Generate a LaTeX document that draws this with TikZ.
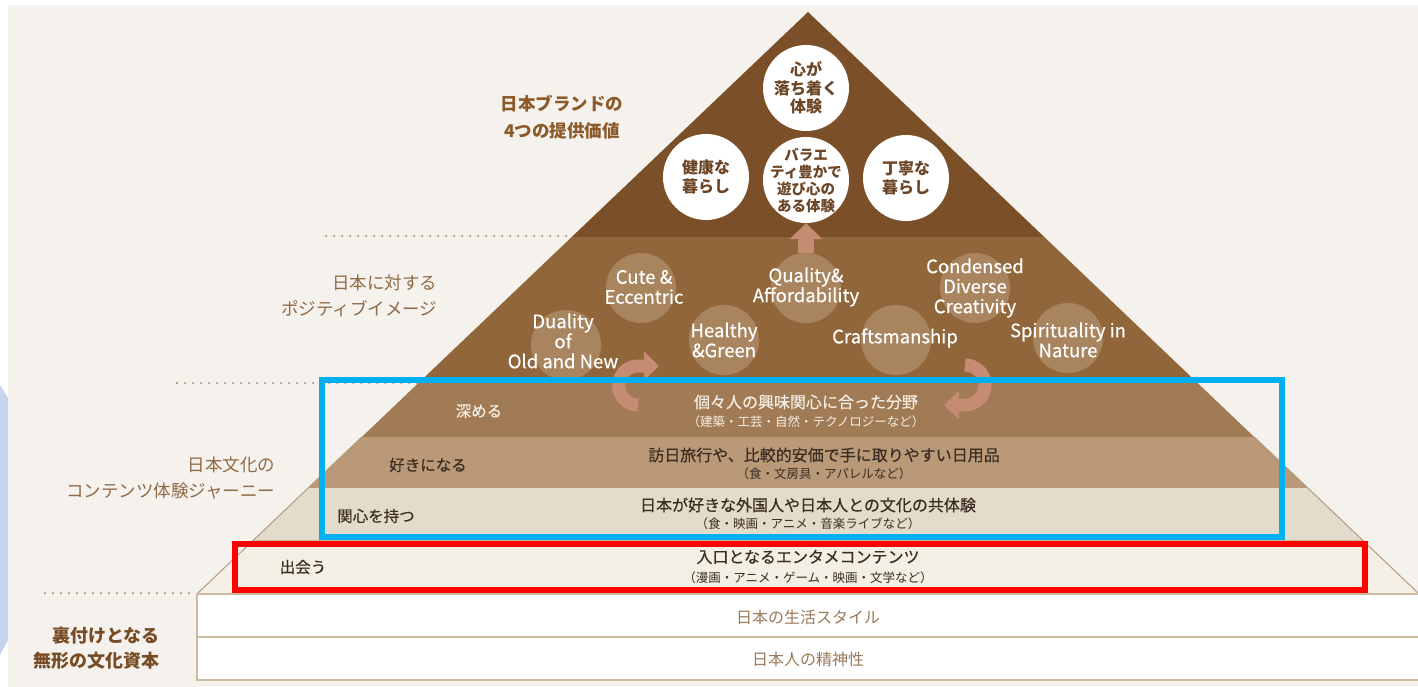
\documentclass[tikz,border=0pt]{standalone}
\usepackage{fontspec}
\setmainfont{Noto Sans CJK JP}
\newfontfamily\medjp{Noto Sans CJK JP}[FakeBold=0.35]
\usetikzlibrary{arrows.meta}
\definecolor{bgc}{HTML}{F5F2ED}
\definecolor{topbrown}{HTML}{7B4F27}
\definecolor{bandtwo}{HTML}{91663A}
\definecolor{bandthree}{HTML}{A07B55}
\definecolor{bandfour}{HTML}{B99978}
\definecolor{bandfive}{HTML}{E3DBCB}
\definecolor{bandsix}{HTML}{F3EFE4}
\definecolor{circc}{HTML}{A8845F}
\definecolor{salmon}{HTML}{C68C73}
\definecolor{labelc}{HTML}{8F6A45}
\definecolor{titlec}{HTML}{8C5A2A}
\definecolor{circtxt}{HTML}{6B4526}
\definecolor{darktxt}{HTML}{3A2C20}
\definecolor{basetxt}{HTML}{9B7A5A}
\definecolor{baseedge}{HTML}{CDBBA0}
\definecolor{edgec}{HTML}{B49A7C}
\definecolor{dotc}{HTML}{A0795A}
\definecolor{hlblue}{HTML}{00B0F0}
\definecolor{hlred}{HTML}{FF0000}
\definecolor{sideblue}{HTML}{C5D3EC}
\definecolor{lighttxt}{HTML}{F6EEE4}
\begin{document}
\begin{tikzpicture}[x=1pt,y=-1pt,
  whitecirc/.style={circle,fill=white,minimum size=86pt,inner sep=0pt},
  circtext/.style={align=center,text=circtxt,font=\fontsize{16}{18.5}\selectfont\bfseries},
  imgcirc/.style={circle,fill=circc,minimum size=70pt,inner sep=0pt},
  imgtxt/.style={align=center,text=white,font=\fontsize{18.5}{20}\selectfont\medjp},
  sidelabel/.style={align=right,anchor=east,text=labelc,font=\fontsize{17.5}{26}\selectfont},
  stagetxt/.style={font=\fontsize{15.5}{18}\selectfont\medjp},
  maintxt/.style={font=\fontsize{16}{18}\selectfont\medjp},
  subtxt/.style={font=\fontsize{12.5}{14}\selectfont},
  basetext/.style={text=basetxt,font=\fontsize{16}{18}\selectfont},
  dotline/.style={dotc,line width=2pt,line cap=round,dash pattern=on 0pt off 8pt},
  turnarrow/.style={salmon,line width=13pt,-{Triangle[width=28pt,length=15pt]}},
  hlbox/.style={line width=5.5pt}
]
\useasboundingbox (0,0) rectangle (1418,687);
% background
\fill[white] (0,0) rectangle (1418,687);
\fill[bgc] (8,5) rectangle (1418,687);
\fill[sideblue] (0,385) -- (8,398) -- (8,640) -- (0,655) -- cycle;

% dotted guide lines
\draw[dotline] (326,236) -- (570,236);
\draw[dotline] (177,383) -- (418,383);
\draw[dotline] (45,593) -- (196,593);

% pyramid bands
\fill[topbrown] (808,12) -- (1044.25,237) -- (571.75,237) -- cycle;
\fill[bandtwo] (571.75,237) -- (1044.25,237) -- (1196.5,382) -- (419.5,382) -- cycle;
\fill[bandthree] (419.5,382) -- (1196.5,382) -- (1254.25,437) -- (361.75,437) -- cycle;
\fill[bandfour] (361.75,437) -- (1254.25,437) -- (1307.8,488) -- (308.2,488) -- cycle;
\fill[bandfive] (308.2,488) -- (1307.8,488) -- (1362.4,540) -- (253.6,540) -- cycle;
\fill[bandsix] (253.6,540) -- (1362.4,540) -- (1419.1,594) -- (196.9,594) -- cycle;
\draw[baseedge,line width=1pt] (253.6,540) -- (1362.4,540);
\draw[edgec,line width=1pt] (361.75,437) -- (196.9,594);
\draw[edgec,line width=1pt] (1254.25,437) -- (1419.1,594);

% base rows
\draw[baseedge,line width=2pt,fill=white] (197,594) rectangle (1420,637);
\draw[baseedge,line width=2pt,fill=white] (197,637) rectangle (1420,680);
\node[basetext] (life) at (808,617) {日本の生活スタイル};
\node[basetext] (spirit) at (808,659) {日本人の精神性};

% positive image circles
\node[imgcirc] (dc) at (566,345) {};
\node[imgcirc] (cc) at (641,288) {};
\node[imgcirc] (hc) at (724,340) {};
\node[imgcirc] (kc) at (896,340) {};
\node[imgcirc] (nc) at (975,288) {};
\node[imgcirc] (sc) at (1068,338) {};

% value circles
\node[whitecirc] (calm) at (806,88) {};
\node[whitecirc] (health) at (706,177) {};
\node[whitecirc] (variety) at (806,180) {};
\node[whitecirc] (care) at (906,178) {};

% up arrow from positive image to values
\node[imgcirc] (qc) at (806,288) {};
\draw[salmon,line width=16pt,-{Triangle[width=32pt,length=16pt]}] (qc.north) -- (variety.south);
\node[imgcirc] (qcover) at (806,288) {};

% circle texts
\node[circtext] (calmt) at (806,88) {心が\\落ち着く\\体験};
\node[circtext] (healtht) at (706,177) {健康な\\暮らし};
\node[circtext,font=\fontsize{14.5}{17}\selectfont\bfseries] (varietyt) at (806,181) {バラエ\\ティ豊かで\\遊び心の\\ある体験};
\node[circtext] (caret) at (906,178) {丁寧な\\暮らし};

\node[imgtxt] (dt) at (563,341) {Duality\\of\\Old and New};
\node[imgtxt] (ct) at (644,287) {Cute \&\\Eccentric};
\node[imgtxt] (ht) at (724,340) {Healthy\\\&Green};
\node[imgtxt] (qt) at (806,287) {Quality\&\\Affordability};
\node[imgtxt] (kt) at (895,338) {Craftsmanship};
\node[imgtxt] (nt) at (975,288) {Condensed\\Diverse\\Creativity};
\node[imgtxt] (st) at (1068,340) {Spirituality in\\Nature};

% turning arrows
\coordinate (la1) at (638,405);
\coordinate (la2) at (659,366);
\draw[turnarrow] (la1) arc[start angle=90,end angle=270,radius=19.5] -- (la2);
\coordinate (ra1) at (965,365);
\coordinate (ra2) at (944,405);
\draw[turnarrow] (ra1) arc[start angle=-90,end angle=90,radius=20] -- (ra2);

% side labels
\node[align=center,text=titlec,font=\fontsize{17.5}{27}\selectfont\bfseries] (title) at (562,117) {日本ブランドの\\4つの提供価値};
\node[sidelabel] (pos) at (441,296) {日本に対する\\ポジティブイメージ};
\node[sidelabel] (jour) at (279,478) {日本文化の\\コンテンツ体験ジャーニー};
\node[sidelabel,text=titlec!85!black,font=\fontsize{18}{25}\selectfont\bfseries] (cap) at (163,648) {裏付けとなる\\無形の文化資本};

% stage labels
\node[stagetxt,text=lighttxt] (s1) at (479,411) {深める};
\node[stagetxt,text=darktxt] (s2) at (428,465) {好きになる};
\node[stagetxt,text=darktxt] (s3) at (376,516) {関心を持つ};
\node[stagetxt,text=darktxt] (s4) at (303,567) {出会う};

% stage contents
\node[maintxt,text=lighttxt] (m1) at (806,402) {個々人の興味関心に合った分野};
\node[subtxt,text=lighttxt] (u1) at (806,422) {（建築・工芸・自然・テクノロジーなど）};
\node[maintxt,text=darktxt] (m2) at (824,455) {訪日旅行や、比較的安価で手に取りやすい日用品};
\node[subtxt,text=darktxt] (u2) at (824,474) {（食・文房具・アパレルなど）};
\node[maintxt,text=darktxt] (m3) at (808,505) {日本が好きな外国人や日本人との文化の共体験};
\node[subtxt,text=darktxt] (u3) at (808,524) {（食・映画・アニメ・音楽ライブなど）};
\node[maintxt,text=darktxt] (m4) at (808,557) {入口となるエンタメコンテンツ};
\node[subtxt,text=darktxt] (u4) at (808,578) {（漫画・アニメ・ゲーム・映画・文学など）};

% highlight boxes
\draw[hlbox,hlblue] (322,380) rectangle (1282,537);
\draw[hlbox,hlred] (235,544) rectangle (1365,590);
\end{tikzpicture}
\end{document}
